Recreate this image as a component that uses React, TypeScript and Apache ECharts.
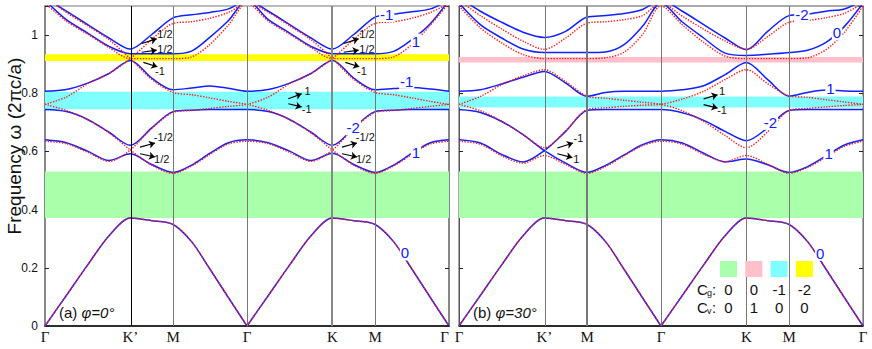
import React, { useEffect, useRef } from 'react';
import * as echarts from 'echarts';

// ---- k-path (units of 2π/a): Γ K' M Γ K M Γ ----
const K_PATH = [0, 0.1667, 0.3333, 0.5, 0.6667, 0.8333, 1.0, 1.1443, 1.2887, 1.433, 1.5774, 1.744, 1.9107, 2.0774, 2.244, 2.4107, 2.5774, 2.7217, 2.866, 3.0104, 3.1547];
const K_MAX = 3.1547;
const SYM_POINTS = [0, 0.6667, 1.0, 1.5774, 2.244, 2.5774, 3.1547];
const SYM_LABELS = ['Γ', 'K’', 'M', 'Γ', 'K', 'M', 'Γ'];
const Y_MAX = 1.1;
const Y_INTERVAL = 0.2;

// ---- acoustic band (both panels) ----
const ACOUSTIC = [0, 0.105, 0.21, 0.31, 0.371, 0.362, 0.349, 0.29, 0.195, 0.097, 0, 0.105, 0.21, 0.31, 0.371, 0.362, 0.349, 0.29, 0.195, 0.097, 0];

// ---- panel (a) φ=0° : blue (solid) bands ----
const A_BLUE_2 = [0.640, 0.630, 0.601, 0.569, 0.592, 0.555, 0.528, 0.553, 0.594, 0.630, 0.640, 0.630, 0.601, 0.569, 0.594, 0.555, 0.528, 0.553, 0.594, 0.630, 0.640];
const A_BLUE_3 = [0.744, 0.737, 0.710, 0.666, 0.621, 0.681, 0.737, 0.742, 0.744, 0.744, 0.744, 0.737, 0.710, 0.666, 0.621, 0.681, 0.737, 0.742, 0.744, 0.744, 0.744];
const A_BLUE_4 = [0.807, 0.813, 0.835, 0.868, 0.913, 0.852, 0.812, 0.818, 0.825, 0.817, 0.807, 0.813, 0.835, 0.868, 0.913, 0.852, 0.812, 0.816, 0.820, 0.815, 0.807];
const A_BLUE_5 = [1.12, 1.053, 1.007, 0.961, 0.936, 0.936, 0.936, 0.945, 0.993, 1.05, 1.12, 1.053, 1.007, 0.961, 0.936, 0.936, 0.936, 0.944, 0.985, 1.04, 1.12];
const A_BLUE_6 = [1.13, 1.082, 1.036, 0.990, 0.952, 1.002, 1.059, 1.070, 1.078, 1.090, 1.12, 1.082, 1.036, 0.990, 0.952, 1.002, 1.062, 1.072, 1.080, 1.090, 1.12];

// ---- panel (a): red (dotted) lines, followed through their crossings ----
const A_RED_P = [0.635, 0.627, 0.597, 0.566, 0.605, 0.679, 0.734, 0.741, 0.748, 0.755, 0.762, 0.787, 0.833, 0.868, 0.919, 0.985, 1.040, 1.046, 1.058, 1.078, 1.11];
const A_RED_Q = [0.762, 0.741, 0.709, 0.664, 0.605, 0.553, 0.525, 0.550, 0.590, 0.626, 0.635, 0.627, 0.597, 0.566, 0.605, 0.679, 0.734, 0.741, 0.748, 0.755, 0.762];
const A_RED_S = [0.762, 0.787, 0.833, 0.868, 0.919, 0.985, 1.040, 1.046, 1.058, 1.078, 1.11, 1.078, 1.032, 0.984, 0.919, 0.848, 0.803, 0.795, 0.784, 0.772, 0.762];
const A_RED_T = [1.13, 1.078, 1.032, 0.984, 0.919, 0.848, 0.803, 0.795, 0.784, 0.772, 0.762, 0.741, 0.709, 0.664, 0.605, 0.553, 0.525, 0.550, 0.590, 0.626, 0.635];
const A_RED_U = [1.11, 1.048, 1.003, 0.957, 0.919, 0.919, 0.919, 0.925, 0.968, 1.035, 1.11, 1.048, 1.003, 0.957, 0.919, 0.919, 0.919, 0.925, 0.968, 1.035, 1.11];

// ---- panel (b) φ=30° : blue ----
const B_BLUE_X = [0.640, 0.629, 0.590, 0.564, 0.603, 0.669, 0.741, 0.744, 0.744, 0.744, 0.744, 0.733, 0.707, 0.669, 0.637, 0.681, 0.741, 0.744, 0.744, 0.744, 0.744];
const B_BLUE_Y = [0.744, 0.734, 0.703, 0.658, 0.603, 0.560, 0.528, 0.552, 0.588, 0.623, 0.640, 0.629, 0.594, 0.564, 0.574, 0.554, 0.528, 0.548, 0.585, 0.622, 0.640];
const B_BLUE_4 = [0.807, 0.812, 0.832, 0.855, 0.875, 0.835, 0.790, 0.803, 0.807, 0.807, 0.807, 0.812, 0.826, 0.864, 0.906, 0.847, 0.790, 0.803, 0.811, 0.808, 0.807];
const B_BLUE_5 = [1.11, 1.036, 0.990, 0.952, 0.940, 0.940, 0.940, 0.942, 0.967, 1.030, 1.11, 1.045, 0.990, 0.938, 0.930, 0.934, 0.940, 0.948, 0.975, 1.030, 1.11];
const B_BLUE_6 = [1.13, 1.082, 1.044, 1.010, 0.992, 1.013, 1.062, 1.067, 1.074, 1.088, 1.12, 1.082, 1.036, 0.990, 0.950, 1.013, 1.067, 1.072, 1.082, 1.090, 1.12];

// ---- panel (b): red ----
const B_RED_2 = [0.635, 0.625, 0.585, 0.560, 0.586, 0.555, 0.525, 0.548, 0.585, 0.620, 0.635, 0.625, 0.590, 0.565, 0.586, 0.556, 0.525, 0.545, 0.580, 0.618, 0.635];
const B_RED_P = [0.762, 0.740, 0.704, 0.658, 0.613, 0.672, 0.744, 0.750, 0.755, 0.759, 0.762, 0.780, 0.807, 0.847, 0.881, 0.833, 0.791, 0.786, 0.778, 0.770, 0.762];
const B_RED_Q = [0.762, 0.789, 0.830, 0.860, 0.881, 0.840, 0.790, 0.783, 0.776, 0.769, 0.762, 0.740, 0.703, 0.655, 0.613, 0.668, 0.741, 0.748, 0.753, 0.758, 0.762];
const B_RED_5 = [1.10, 1.025, 0.973, 0.933, 0.919, 0.919, 0.919, 0.922, 0.941, 1.002, 1.10, 1.035, 0.975, 0.928, 0.919, 0.919, 0.919, 0.922, 0.950, 1.010, 1.10];
const B_RED_6 = [1.12, 1.067, 1.021, 0.979, 0.951, 0.990, 1.041, 1.046, 1.053, 1.067, 1.11, 1.065, 1.020, 0.980, 0.951, 0.995, 1.044, 1.050, 1.060, 1.075, 1.11];

// ---- band gaps ----
const GREEN = '#aaffaa';
const PINK = '#ffc0cb';
const CYAN = '#80ffff';
const YELLOW = '#ffff00';
const A_GAPS: [number, number, string][] = [[0.371, 0.531, GREEN], [0.745, 0.805, CYAN], [0.911, 0.934, YELLOW]];
const B_GAPS: [number, number, string][] = [[0.371, 0.531, GREEN], [0.751, 0.789, CYAN], [0.906, 0.925, PINK]];

// ---- vertical high-symmetry lines ----
const A_VLINES: [number, string, number][] = [[0.6667, '#000', 1], [1.0, '#777', 1], [1.5774, '#777', 1], [2.244, '#888', 2], [2.5774, '#777', 1]];
const B_VLINES: [number, string, number][] = [[0.6667, '#777', 1], [1.0, '#777', 2], [1.5774, '#777', 1], [2.244, '#777', 1], [2.5774, '#777', 1]];

// ---- Chern-number labels (blue) ----
const A_CHERN: [string, number, number][] = [['-1', 2.668, 1.071], ['1', 2.897, 0.979], ['-1', 2.824, 0.841], ['-2', 2.407, 0.681], ['1', 2.897, 0.596], ['0', 2.811, 0.251]];
const B_CHERN: [string, number, number][] = [['-2', 2.678, 1.071], ['0', 2.952, 1.008], ['1', 2.900, 0.818], ['-2', 2.431, 0.700], ['1', 2.886, 0.594], ['0', 2.821, 0.250]];

// ---- valley annotations (black) ----
const A_NOTES: [string, number, number][] = [
  ['1/2', 0.937, 1.005], ['1/2', 0.937, 0.952], ['-1', 0.898, 0.875], ['-1/2', 0.924, 0.650], ['1/2', 0.911, 0.574],
  ['1/2', 2.514, 1.005], ['1/2', 2.514, 0.952], ['-1', 2.475, 0.875], ['-1/2', 2.501, 0.650], ['1/2', 2.488, 0.574],
  ['1', 2.051, 0.807], ['-1', 2.044, 0.746],
];
const A_ARROWS: [number, number, number, number, number][] = [
  [0.755, 0.971, 0.872, 0.987, -0.3], [0.755, 0.941, 0.872, 0.948, -0.3], [0.768, 0.906, 0.877, 0.891, 0.3],
  [0.742, 0.615, 0.859, 0.629, -0.3], [0.742, 0.592, 0.859, 0.581, 0.3],
  [2.332, 0.971, 2.449, 0.987, -0.3], [2.332, 0.941, 2.449, 0.948, -0.3], [2.345, 0.906, 2.454, 0.891, 0.3],
  [2.319, 0.615, 2.436, 0.629, -0.3], [2.319, 0.592, 2.436, 0.581, 0.3],
  [1.900, 0.781, 2.004, 0.798, -0.3], [1.900, 0.764, 2.004, 0.753, 0.3],
];
const B_NOTES: [string, number, number][] = [['-1', 0.932, 0.646], ['1', 0.916, 0.574], ['1', 2.054, 0.807], ['-1', 2.054, 0.741]];
const B_ARROWS: [number, number, number, number, number][] = [
  [0.768, 0.612, 0.890, 0.629, -0.3], [0.768, 0.592, 0.885, 0.579, 0.3],
  [1.910, 0.781, 2.019, 0.795, -0.3], [1.910, 0.761, 2.019, 0.749, 0.3],
];

// ---- legend ----
const LEGEND_COLORS = [GREEN, PINK, CYAN, YELLOW];
const LEGEND_CG = ['0', '0', '-1', '-2'];
const LEGEND_CV = ['0', '1', '0', '0'];

const BLUE = '#1020ff';
const RED = '#ff1a1a';
const SANS = '"Liberation Sans", Arial, sans-serif';
const SERIF = '"Liberation Serif", "Times New Roman", serif';

function curve(grid: number, ks: number[], vs: number[], color: string, dotted: boolean, z: number) {
  return {
    type: 'line', xAxisIndex: grid, yAxisIndex: grid,
    data: ks.map((k, i) => [k, vs[i]]),
    smooth: 0.3, symbol: 'none', showSymbol: false, silent: true, z,
    lineStyle: { color, width: dotted ? 1.4 : 1.5, type: dotted ? [1.4, 1.4] : 'solid' },
  };
}

function panelSeries(grid: number, blue: number[][], red: number[][], gaps: [number, number, string][], vlines: [number, string, number][],
  chern: [string, number, number][], notes: [string, number, number][], arrows: [number, number, number, number, number][]) {
  const s: any[] = [];
  s.push({
    type: 'line', xAxisIndex: grid, yAxisIndex: grid, data: [[0, -1]], symbol: 'none', silent: true, z: 1,
    markArea: { silent: true, data: gaps.map(([lo, hi, c]) => [{ yAxis: lo, itemStyle: { color: c } }, { yAxis: hi }]) },
    markLine: {
      silent: true, symbol: ['none', 'none'], label: { show: false }, lineStyle: { type: 'solid' },
      data: vlines.map(([k, c, w]) => ({ xAxis: k, lineStyle: { color: c, width: w, type: 'solid' } })),
    },
  });
  const lo = K_PATH.slice(0, 11), hi = K_PATH.slice(10);
  s.push(curve(grid, lo, ACOUSTIC.slice(0, 11), BLUE, false, 3));
  s.push(curve(grid, hi, ACOUSTIC.slice(10), BLUE, false, 3));
  blue.forEach((b) => s.push(curve(grid, K_PATH, b, BLUE, false, 3)));
  s.push(curve(grid, lo, ACOUSTIC.slice(0, 11), RED, true, 4));
  s.push(curve(grid, hi, ACOUSTIC.slice(10), RED, true, 4));
  red.forEach((r) => s.push(curve(grid, K_PATH, r, RED, true, 4)));
  s.push({
    type: 'line', xAxisIndex: grid, yAxisIndex: grid, data: [[0, -1]], symbol: 'none', silent: true, z: 10,
    markPoint: {
      silent: true, symbol: 'circle', symbolSize: 0,
      data: [
        ...chern.map(([t, k, v]) => ({
          name: t, coord: [k, v],
          label: { show: true, position: 'inside', formatter: '{b}', color: BLUE, fontSize: 15, fontFamily: SANS, backgroundColor: '#fff', padding: [0, 1] },
        })),
        ...notes.map(([t, k, v]) => ({
          name: t, coord: [k, v],
          label: { show: true, position: 'inside', formatter: '{b}', color: '#111', fontSize: 11, fontFamily: SANS },
        })),
      ],
    },
    markLine: {
      silent: true, symbol: ['none', 'arrow'], symbolSize: 6, label: { show: false },
      data: arrows.map(([k1, v1, k2, v2, c]) => [
        { coord: [k1, v1], lineStyle: { color: '#000', width: 1.2, type: 'solid', curveness: c } },
        { coord: [k2, v2], lineStyle: { color: '#000', width: 1.2, type: 'solid', curveness: c } },
      ]),
    },
  });
  return s;
}

function xAxis(grid: number, alignMax: string) {
  return {
    type: 'value', gridIndex: grid, min: 0, max: K_MAX,
    axisLine: { show: true, lineStyle: { color: '#000', width: 1.5 } },
    axisTick: { show: false }, splitLine: { show: false },
    axisLabel: {
      customValues: SYM_POINTS,
      alignMaxLabel: alignMax,
      formatter: (v: number) => {
        const i = SYM_POINTS.findIndex((s) => Math.abs(s - v) < 1e-3);
        return i >= 0 ? SYM_LABELS[i] : '';
      },
      fontFamily: SERIF, fontSize: 15, color: '#111', margin: 3,
    },
  };
}

function yAxis(grid: number, pos: 'left' | 'right', labels: boolean, lineColor: string, lineWidth: number) {
  return {
    type: 'value', gridIndex: grid, position: pos, min: 0, max: Y_MAX, interval: Y_INTERVAL,
    axisLine: { show: true, lineStyle: { color: lineColor, width: lineWidth } },
    axisTick: { show: true, inside: true, length: 4, lineStyle: { color: '#222' } },
    splitLine: { show: false },
    axisLabel: {
      show: labels, fontSize: 12, color: '#111', fontFamily: SANS, margin: 7,
      formatter: (v: number) => (v > 1.05 ? '' : String(Math.round(v * 10) / 10)),
    },
  };
}

export default function App() {
  const ref = useRef<HTMLDivElement>(null);
  useEffect(() => {
    if (!ref.current) return;
    const chart = echarts.init(ref.current, null, { renderer: 'svg' });
    const legendX0 = 728.5, legendDx = 25.3;
    const graphic: any[] = [
      {
        type: 'text', x: 14, y: 146, rotation: Math.PI / 2,
        style: { text: 'Frequency ω (2πc/a)', font: `19px ${SANS}`, fill: '#111', align: 'center', verticalAlign: 'middle' },
      },
      {
        type: 'text', x: 59, y: 312, z: 20,
        style: {
          text: '{n|(a) }{i|φ=0°}', align: 'left', verticalAlign: 'middle',
          rich: { n: { fontSize: 15, fontFamily: SANS, fill: '#111' }, i: { fontSize: 15, fontFamily: SANS, fontStyle: 'italic', fill: '#111' } },
        },
      },
      {
        type: 'text', x: 473, y: 312, z: 20,
        style: {
          text: '{n|(b) }{i|φ=30°}', align: 'left', verticalAlign: 'middle',
          rich: { n: { fontSize: 15, fontFamily: SANS, fill: '#111' }, i: { fontSize: 15, fontFamily: SANS, fontStyle: 'italic', fill: '#111' } },
        },
      },
    ];
    LEGEND_COLORS.forEach((c, i) => {
      const cx = legendX0 + i * legendDx;
      graphic.push({ type: 'rect', z: 20, shape: { x: cx - 8.5, y: 261, width: 17, height: 16 }, style: { fill: c } });
      graphic.push({ type: 'text', z: 20, x: cx, y: 289, style: { text: LEGEND_CG[i], font: `15px ${SANS}`, fill: '#111', align: 'center', verticalAlign: 'middle' } });
      graphic.push({ type: 'text', z: 20, x: cx, y: 307, style: { text: LEGEND_CV[i], font: `15px ${SANS}`, fill: '#111', align: 'center', verticalAlign: 'middle' } });
    });
    [['g', 289], ['v', 307]].forEach(([sub, y]) => {
      graphic.push({ type: 'text', z: 20, x: 697, y: y as number, style: { text: 'C', font: `15px ${SANS}`, fill: '#111', align: 'left', verticalAlign: 'middle' } });
      graphic.push({ type: 'text', z: 20, x: 707, y: (y as number) + 4, style: { text: sub as string, font: `9px ${SANS}`, fill: '#111', align: 'left', verticalAlign: 'middle' } });
      graphic.push({ type: 'text', z: 20, x: 712, y: y as number, style: { text: ':', font: `15px ${SANS}`, fill: '#111', align: 'left', verticalAlign: 'middle' } });
    });

    chart.setOption({
      animation: false,
      backgroundColor: '#fff',
      grid: [
        { left: 45, top: 6, width: 404, height: 320, show: true, borderColor: '#777', borderWidth: 1, backgroundColor: '#fff' },
        { left: 459, top: 6, width: 404, height: 320, show: true, borderColor: '#555', borderWidth: 1, backgroundColor: '#fff' },
      ],
      xAxis: [xAxis(0, 'right'), xAxis(1, 'center')],
      yAxis: [
        yAxis(0, 'left', true, '#888', 2),
        yAxis(1, 'left', false, '#555', 1),
        yAxis(0, 'right', false, '#888', 2),
        yAxis(1, 'right', false, '#777', 1),
      ],
      series: [
        ...panelSeries(0, [A_BLUE_2, A_BLUE_3, A_BLUE_4, A_BLUE_5, A_BLUE_6], [A_RED_P, A_RED_Q, A_RED_S, A_RED_T, A_RED_U], A_GAPS, A_VLINES, A_CHERN, A_NOTES, A_ARROWS),
        ...panelSeries(1, [B_BLUE_X, B_BLUE_Y, B_BLUE_4, B_BLUE_5, B_BLUE_6], [B_RED_2, B_RED_P, B_RED_Q, B_RED_5, B_RED_6], B_GAPS, B_VLINES, B_CHERN, B_NOTES, B_ARROWS),
      ],
      graphic,
    });
    return () => chart.dispose();
  }, []);
  return <div ref={ref} style={{ position: 'absolute', left: 0, top: 0, width: 872, height: 349 }} />;
}
